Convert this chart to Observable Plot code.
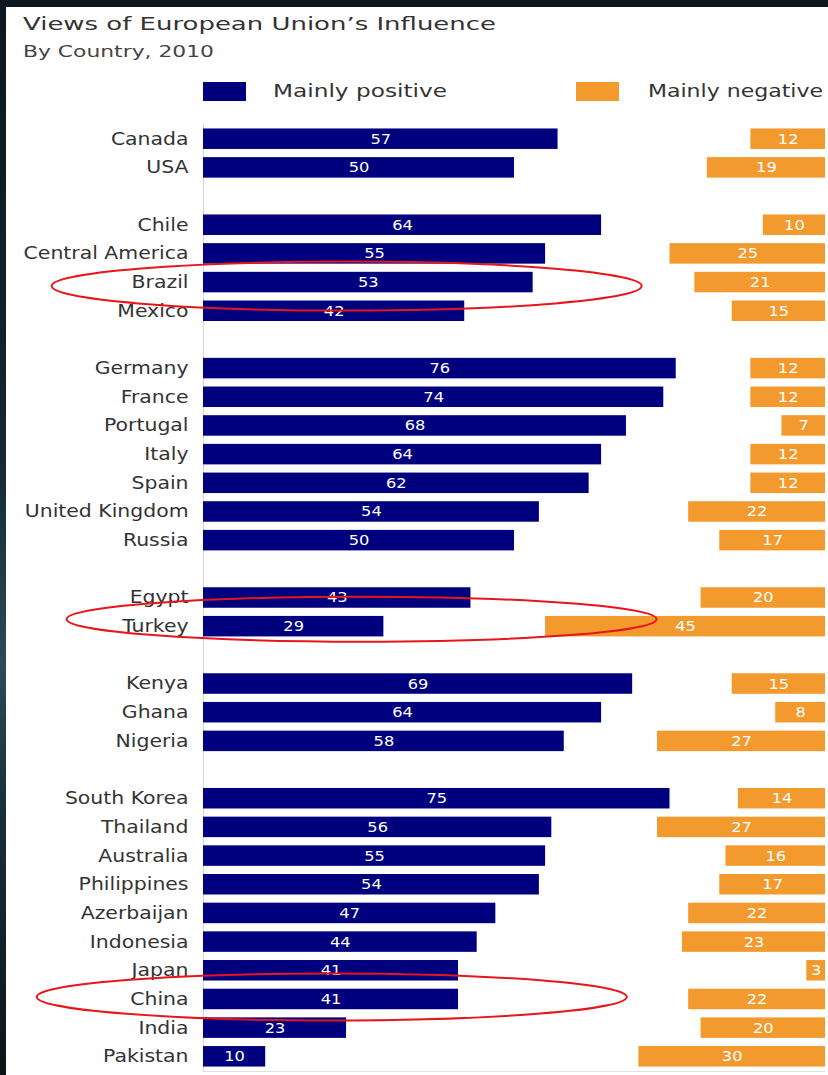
<!DOCTYPE html>
<html>
<head>
<meta charset="utf-8">
<script src="https://cdn.jsdelivr.net/npm/d3@7"></script>
<script src="https://cdn.jsdelivr.net/npm/@observablehq/plot@0.6"></script>
<style>
html, body { margin: 0; padding: 0; width: 828px; height: 1075px; overflow: hidden; }
body {
  position: relative;
  background: linear-gradient(180deg, #0d181e 0%, #14252d 40%, #2a4b57 62%, #1a3038 75%, #0c1418 100%);
  font-family: "DejaVu Sans", sans-serif;
}
#panel { position: absolute; left: 6px; top: 7px; width: 822px; height: 1068px; background: #fff; }
.t { position: absolute; white-space: nowrap; line-height: 1; transform-origin: 0 50%; }
#title { left: 23px; top: 15.5px; font-size: 17px; color: #333; }
#subtitle { left: 23px; top: 44.5px; font-size: 15px; color: #444; }
.sw { position: absolute; width: 43px; height: 19px; top: 82px; }
#swPos { left: 203px; background: #00007f; }
#swNeg { left: 576px; background: #f29a2e; }
#legPos { left: 273px; top: 82.6px; font-size: 17px; color: #333; }
#legNeg { left: 648px; top: 82.6px; font-size: 17px; color: #333; }
#chart { position: absolute; left: 0; top: 110px; }
</style>
</head>
<body>
<div id="panel"></div>
<div class="t" id="title">Views of European Union’s Influence</div>
<div class="t" id="subtitle">By Country, 2010</div>
<div class="sw" id="swPos"></div>
<div class="t" id="legPos">Mainly positive</div>
<div class="sw" id="swNeg"></div>
<div class="t" id="legNeg">Mainly negative</div>
<div id="chart"></div>
<script>
// ---- data ----
const countries = [
  "Canada", "USA",
  "Chile", "Central America", "Brazil", "Mexico",
  "Germany", "France", "Portugal", "Italy", "Spain", "United Kingdom", "Russia",
  "Egypt", "Turkey",
  "Kenya", "Ghana", "Nigeria",
  "South Korea", "Thailand", "Australia", "Philippines", "Azerbaijan", "Indonesia",
  "Japan", "China", "India", "Pakistan"
];
const positive = [57, 50, 64, 55, 53, 42, 76, 74, 68, 64, 62, 54, 50, 43, 29, 69, 64, 58, 75, 56, 55, 54, 47, 44, 41, 41, 23, 10];
const negative = [12, 19, 10, 25, 21, 15, 12, 12, 7, 12, 12, 22, 17, 20, 45, 15, 8, 27, 14, 27, 16, 17, 22, 23, 3, 22, 20, 30];
const groupEndsAt = ["USA", "Mexico", "Russia", "Turkey", "Nigeria"];
const seriesNames = ["Mainly positive", "Mainly negative"];
const highlighted = ["Brazil", "Turkey", "China"];

// ---- styles / annotation geometry ----
const POS = "#00007f", NEG = "#f29a2e";
const ringSpec = {Brazil: {cx: 23.1, rx: 295, ry: 24.5, dy: 4},
                  Turkey: {cx: 25.5, rx: 295, ry: 22.5, dy: -7},
                  China:  {cx: 20.7, rx: 295, ry: 23.5, dy: -2}};

const rows = countries.map((c, i) => ({country: c, pos: positive[i], neg: negative[i]}));
const domain = [];
countries.forEach(c => { domain.push(c); if (groupEndsAt.includes(c)) domain.push("gap" + domain.length); });
const total = 100;

function rings(index, scales) {
  const {x, y} = scales;
  const g = d3.create("svg:g");
  const r = y.range();
  g.append("line").attr("x1", x(0)).attr("x2", x(total)).attr("y1", r[1] - 0.5).attr("y2", r[1] - 0.5)
    .attr("stroke", "#e2e2e2").attr("stroke-width", 1);
  for (const name of highlighted) {
    const s = ringSpec[name];
    g.append("ellipse")
      .attr("cx", x(s.cx)).attr("cy", y(name) + y.bandwidth() / 2 + s.dy)
      .attr("rx", s.rx).attr("ry", s.ry)
      .attr("fill", "none").attr("stroke", "#e8151b").attr("stroke-width", 2);
  }
  return g.node();
}

function build(withRings) {
  const marks = [
    Plot.ruleX([0], {stroke: "#d6d6d6", strokeWidth: 1}),
    Plot.barX(rows, {x: "pos", y: "country", fill: POS, title: d => `${d.country}: ${seriesNames[0]} ${d.pos}`}),
    Plot.barX(rows, {x1: d => total - d.neg, x2: () => total, y: "country", fill: NEG, title: d => `${d.country}: ${seriesNames[1]} ${d.neg}`}),
    Plot.text(rows, {x: d => d.pos / 2, y: "country", text: d => String(d.pos), fill: "white", fontSize: 14}),
    Plot.text(rows, {x: d => total - d.neg / 2, y: "country", text: d => String(d.neg), fill: "white", fontSize: 14}),
    Plot.text(rows, {x: 0, y: "country", text: "country", textAnchor: "end", dx: -15, fill: "#333", fontSize: 17})
  ];
  if (withRings) marks.push(rings);
  return Plot.plot({
    width: 828,
    height: 965,
    marginLeft: 203,
    marginRight: 3,
    marginTop: 13,
    marginBottom: 3,
    style: {background: "transparent", fontFamily: "DejaVu Sans", overflow: "visible"},
    x: {domain: [0, total], axis: null},
    y: {domain, axis: null, paddingInner: 0.285, paddingOuter: 0.19, align: 0.5, round: false},
    marks
  });
}

let chart;
try { chart = build(true); } catch (e) { console.error(e); chart = build(false); }
document.getElementById("chart").append(chart);

// stretch glyphs horizontally like the source image
chart.querySelectorAll("text").forEach(t => {
  const fs = parseFloat(getComputedStyle(t).fontSize);
  const f = fs >= 16 ? 1.2 : 1.16;
  const w = t.getComputedTextLength();
  if (w > 0) { t.setAttribute("textLength", (w * f).toFixed(2)); t.setAttribute("lengthAdjust", "spacingAndGlyphs"); }
});
function fit(id, target) {
  const el = document.getElementById(id);
  const w = el.getBoundingClientRect().width;
  el.style.transform = `scaleX(${target / w})`;
}
fit("title", 473);
fit("subtitle", 191);
fit("legPos", 174);
fit("legNeg", 175);
</script>
</body>
</html>
